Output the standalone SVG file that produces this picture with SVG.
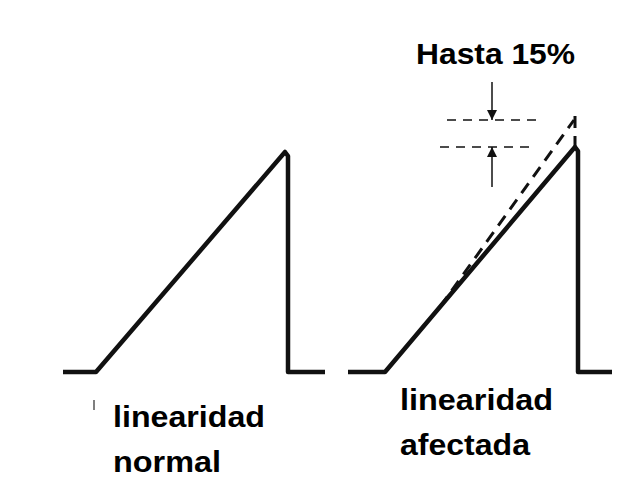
<svg xmlns="http://www.w3.org/2000/svg" width="641" height="493" viewBox="0 0 641 493">
<style>
.w{fill:none;stroke:#111;stroke-width:4.5;stroke-linejoin:round;stroke-linecap:butt}
.d{fill:none;stroke:#111;stroke-width:3;stroke-dasharray:12 8}
.h{fill:none;stroke:#111;stroke-width:1.5;stroke-dasharray:9 7}
.a{fill:none;stroke:#111;stroke-width:1.5}
.t{font-family:"Liberation Sans",Arial,sans-serif;font-weight:bold;fill:#000}
</style>
<defs>
<marker id="ah" viewBox="0 0 10 20" refX="10" refY="5" markerWidth="10" markerHeight="20" markerUnits="userSpaceOnUse" orient="auto">
<path d="M0,0 L10,5 L0,10 Z" fill="#111"/>
</marker>
</defs>
<rect width="641" height="493" fill="#fff"/>
<g id="normal">
<path class="w" d="M63,372 H96 L285,152 L288,156 V372 H325"/>
<path d="M94,400 V410" stroke="#555" stroke-width="1.5"/>
<text class="t" x="113" y="427" font-size="30" textLength="152" lengthAdjust="spacingAndGlyphs">linearidad</text>
<text class="t" x="113" y="472" font-size="30" textLength="108" lengthAdjust="spacingAndGlyphs">normal</text>
</g>
<g id="afectada">
<path class="w" d="M348,372 H385 L575,147 L578,151 V372 H612"/>
<path class="d" d="M440,307 L574,120"/>
<path class="d" stroke-dasharray="10 6" d="M575,116 V146"/>
<text class="t" x="400" y="410" font-size="30" textLength="153" lengthAdjust="spacingAndGlyphs">linearidad</text>
<text class="t" x="400" y="455" font-size="30" textLength="130" lengthAdjust="spacingAndGlyphs">afectada</text>
</g>
<g id="medida">
<path class="h" d="M447,120 H540"/>
<path class="h" d="M440,147 H532"/>
<text class="t" x="416" y="64" font-size="30" textLength="159" lengthAdjust="spacingAndGlyphs">Hasta 15%</text>
</g>
<g id="connectors">
<path class="a" d="M492,82 V120" marker-end="url(#ah)"/>
<path class="a" d="M492,187 V147" marker-end="url(#ah)"/>
</g>
</svg>
